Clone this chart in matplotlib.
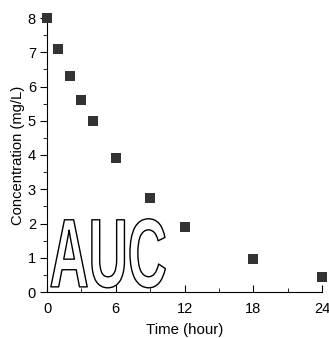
import matplotlib
matplotlib.use("Agg")
import matplotlib.pyplot as plt
import matplotlib.patheffects as pe
from matplotlib.transforms import Affine2D
from matplotlib.ticker import MultipleLocator

time_h = [0, 1, 2, 3, 4, 6, 9, 12, 18, 24]
conc = [8.0, 7.1, 6.3, 5.6, 5.0, 3.9, 2.75, 1.9, 0.95, 0.45]
x_ticks = [0, 6, 12, 18, 24]
y_ticks = [0, 1, 2, 3, 4, 5, 6, 7, 8]

plt.rcParams['font.family'] = ['Liberation Sans', 'DejaVu Sans']


class StretchedStroke(pe.Stroke):
    """Stroke that also scales glyph outlines about the text origin."""
    def __init__(self, sx=1.0, sy=1.0, **kwargs):
        super().__init__(**kwargs)
        self._sx = sx
        self._sy = sy

    def draw_path(self, renderer, gc, tpath, affine, rgbFace):
        gc0 = renderer.new_gc()
        gc0.copy_properties(gc)
        gc0 = self._update_gc(gc0, self._gc)
        renderer.draw_path(gc0, tpath, Affine2D().scale(self._sx, self._sy) + affine, rgbFace)
        gc0.restore()


fig = plt.figure(figsize=(3.29, 3.38), dpi=100)
ax = fig.add_axes([47/329, 46/338, (322-47)/329, (292-18)/338])
ax.scatter(time_h, conc, marker='s', s=55, color='#333333', clip_on=False, zorder=5, linewidths=0)
ax.set_xlim(0, 24)
ax.set_ylim(0, 8)
ax.set_xticks(x_ticks)
ax.set_yticks(y_ticks)
ax.xaxis.set_minor_locator(MultipleLocator(3))
ax.yaxis.set_minor_locator(MultipleLocator(0.5))
for s in ['top', 'right']:
    ax.spines[s].set_visible(False)
ax.tick_params(axis='x', which='major', direction='in', length=5, labelsize=10.5, pad=7)
ax.tick_params(axis='x', which='minor', direction='in', length=3)
ax.tick_params(axis='y', which='major', direction='out', length=5, labelsize=10.5, pad=3)
ax.tick_params(axis='y', which='minor', direction='out', length=3)
ax.set_xlabel('Time (hour)', fontsize=10.8, labelpad=5)
ax.set_ylabel('Concentration (mg/L)', fontsize=10.6, labelpad=2)

t = ax.text(0.22, 0.15, 'AUC', fontsize=39, weight='bold',
            color='white', ha='left', va='baseline', zorder=4)
t.set_path_effects([StretchedStroke(sx=1.0, sy=1.8, linewidth=1.0, foreground='black')])

fig.savefig('out.png', dpi=100)
